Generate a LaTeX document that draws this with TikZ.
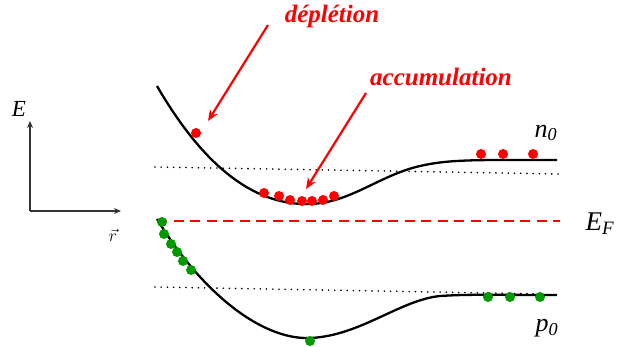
\documentclass[tikz,border=0pt]{standalone}
\usepackage{fontspec}
\setmainfont{Liberation Serif}
\usetikzlibrary{arrows.meta}
\begin{document}
\begin{tikzpicture}[x=1pt,y=-1pt,
  band/.style={line width=2.3pt,black},
  dotline/.style={line width=1.8pt,black,line cap=round,dash pattern=on 0pt off 6.2pt},
  redpt/.style={circle,fill=red,inner sep=0pt,minimum size=10pt},
  greenpt/.style={circle,fill=green!60!black,inner sep=0pt,minimum size=10pt},
  lab/.style={red,font=\fontsize{25}{28}\selectfont\bfseries\itshape},
  sym/.style={font=\fontsize{27}{30}\selectfont\itshape},
  axis/.style={black!80,line width=1.2pt,-{Stealth[length=7pt,width=6pt]}},
  redarrow/.style={red,line width=2.2pt,-{Stealth[length=11pt,width=9pt]}}]
\useasboundingbox (0,0) rectangle (620,346);
% axes
\coordinate (O) at (30,211);
\coordinate (Ey) at (30,121);
\coordinate (Rx) at (121,211);
\draw[axis] (O) -- (Ey);
\draw[axis] (O) -- (Rx);
\node[font=\fontsize{23}{26}\selectfont\itshape] (E) at (19,109) {E};
\node[font=\fontsize{19}{22}\selectfont\itshape] (r) at (113,235) {$\vec{r}$};
% dotted lines
\coordinate (d1a) at (155,167);
\coordinate (d1b) at (560,174);
\coordinate (d2a) at (155,287);
\coordinate (d2b) at (545,294);
\draw[dotline] (d1a) -- (d1b);
\draw[dotline] (d2a) -- (d2b);
% Fermi level
\coordinate (fa) at (157,221);
\coordinate (fb) at (560,221);
\draw[red,line width=2.8pt,dash pattern=on 10pt off 6.5pt] (fa) -- (fb);
% conduction band
\draw[band] (157,86) .. controls (200,160) and (250,206) .. (310,204)
  .. controls (350,203) and (380,175) .. (420,166)
  .. controls (450,159) and (480,160) .. (557,160);
% valence band
\draw[band] (157,219) .. controls (200,290) and (260,340) .. (310,338)
  .. controls (360,336) and (400,300) .. (440,296)
  .. controls (470,294) and (500,295) .. (557,295);
% red dots
\foreach \x/\y [count=\i] in {196/133,264/193,279/196,290/200,302/201,312/201,323/200,334/196,481/154,503/154,533/154}
  \node[redpt] (rp\i) at (\x,\y) {};
% green dots
\foreach \x/\y [count=\i] in {162/222,164/234,171/244,177/252,183/261,191/270,310/341,488/297,510/297,540/297}
  \node[greenpt] (gp\i) at (\x,\y) {};
% labels
\node[lab] (dep) at (332,16) {déplétion};
\node[lab] (acc) at (441,77) {accumulation};
\coordinate (depS) at (268,25);
\coordinate (depE) at (208,121);
\coordinate (accS) at (366,93);
\coordinate (accE) at (306,189);
\draw[redarrow] (depS) -- (depE);
\draw[redarrow] (accS) -- (accE);
\node[font=\fontsize{26}{28}\selectfont\itshape] (n0) at (546,133) {n\textsubscript{0}};
\node[font=\fontsize{26}{28}\selectfont\itshape] (p0) at (547,328) {p\textsubscript{0}};
\node[sym] (EF) at (600,224) {E\textsubscript{F}};
\end{tikzpicture}
\end{document}
